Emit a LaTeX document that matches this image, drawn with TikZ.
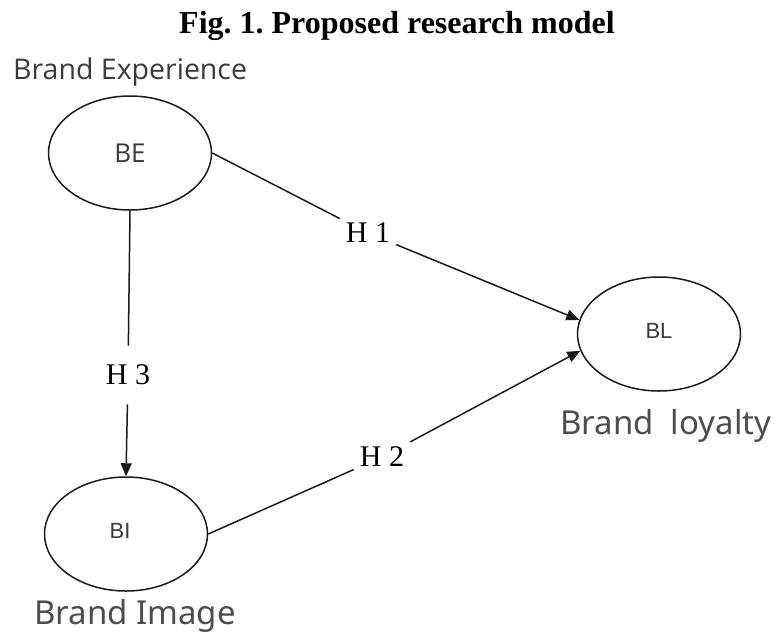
\documentclass[tikz,border=0pt]{standalone}
\usepackage{fontspec}
\usepackage{tikz}
\usetikzlibrary{positioning}
\usetikzlibrary{arrows.meta}
\usetikzlibrary{shapes.geometric}
\usepackage{xcolor}
\setmainfont{Liberation Serif}
\newfontfamily\segoefont{Open Sans}
\newfontfamily\arialfont{Liberation Sans}
\newfontfamily\namefont{Noto Sans}
\definecolor{inkgray}{HTML}{1A1A1A}
\definecolor{bexgray}{HTML}{3A3A3A}
\definecolor{namegray}{HTML}{4D4D4D}
\frenchspacing

\begin{document}
\begin{tikzpicture}[x=1pt, y=-1pt,
    construct/.style={ellipse, draw=inkgray, line width=1.5pt, inner sep=0pt,
                      minimum width=163pt, minimum height=114pt},
    hyp/.style={font=\fontsize{30}{34}\selectfont, inner sep=6pt},
    path/.style={draw=inkgray, line width=1.5pt},
    tip/.style={-{Triangle[length=13pt,width=11pt]}}]
			    		\useasboundingbox (0,0) rectangle (775,633);
			    		% title
			    		\node[font=\bfseries\fontsize{32}{36}\selectfont] (title) at (397,26) {Fig. 1. Proposed research model};
			    		% constructs
			    		\node[construct] (BE) at (130,153) {\segoefont\fontsize{26}{30}\selectfont\color{bexgray}BE};
			    		\node[construct] (BL) at (659,334) {\arialfont\fontsize{22}{26}\selectfont\color{bexgray}\raisebox{6pt}{BL}};
			    		\node[construct] (BI) at (126,534) {\arialfont\fontsize{22}{26}\selectfont\color{bexgray}\raisebox{7pt}{BI}\hspace*{12pt}};
			    		% construct names
			    		\node[anchor=base west, inner sep=0pt, text=bexgray, font=\segoefont\fontsize{28.5}{32}\selectfont] (BEname) at (13,79) {Brand Experience};
			    		\node[anchor=base west, inner sep=0pt, text=namegray, font=\namefont\fontsize{33}{38}\selectfont] (BLname) at (560,434) {Brand\ \ loyalty};
			    		\node[anchor=base west, inner sep=0pt, text=namegray, font=\namefont\fontsize{33}{38}\selectfont] (BIname) at (34,624) {Brand Image};
			    		% hypotheses
			    		\node[hyp] (H1) at (368,233) {H 1};
			    		\node[hyp] (H2) at (382,457) {H 2};
			    		\node[hyp, inner ysep=19pt] (H3) at (128,375) {H 3};
			    		\draw[path, tip] (BE.east)--(H1)--(BL.170);
			    		\draw[path, tip] (BI.east)--(H2)--(BL.192);
			    		\draw[path, tip] (BE.south)--(H3)--(BI.north);
			    	\end{tikzpicture}
\end{document}
